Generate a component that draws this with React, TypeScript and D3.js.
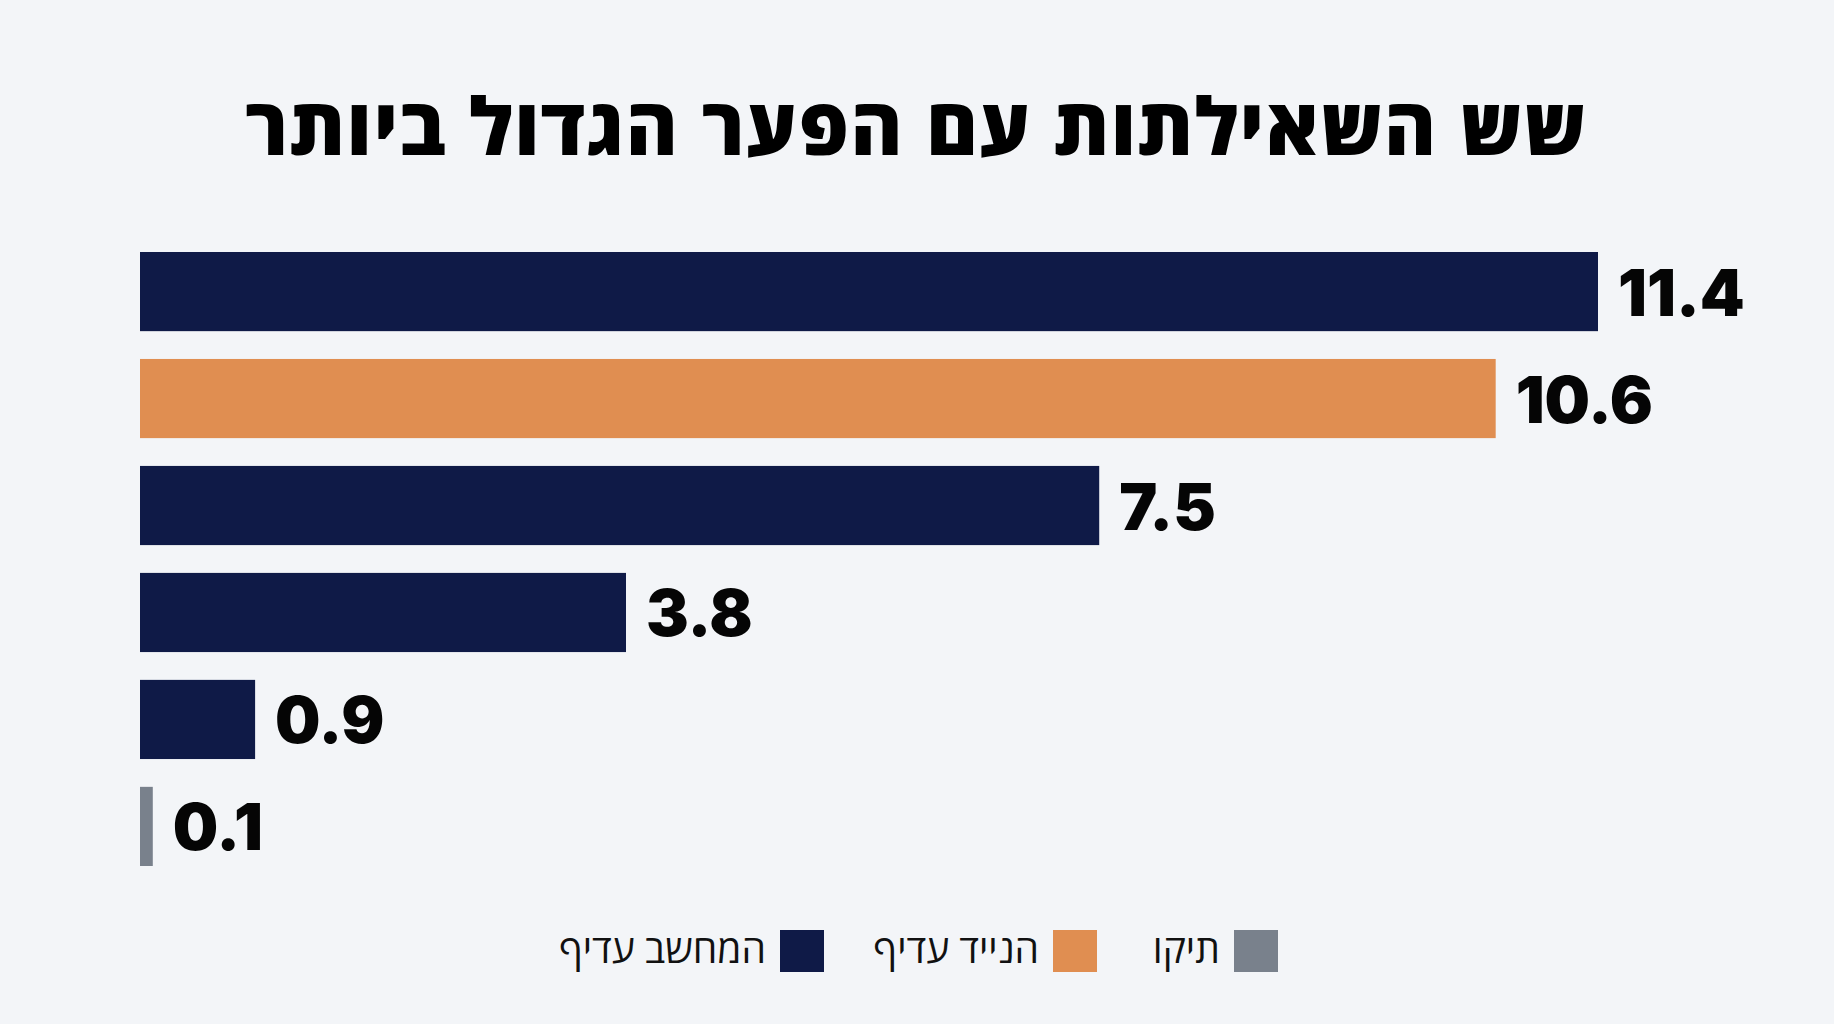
import React from "react";
import * as d3 from "d3";

const title = "שש השאילתות עם הפער הגדול ביותר";
const categories = ["q1", "q2", "q3", "q4", "q5", "q6"];
const values = [11.4, 10.6, 7.5, 3.8, 0.9, 0.1];
const valueLabels = ["11.4", "10.6", "7.5", "3.8", "0.9", "0.1"];
const winners = ["desktop", "mobile", "desktop", "desktop", "desktop", "tie"];
const legendKeys = ["tie", "mobile", "desktop"];
const legendLabels = ["תיקו", "הנייד עדיף", "המחשב עדיף"];
const colorKeys = ["desktop", "mobile", "tie"];
const colorValues = ["#0f1a47", "#e08e51", "#79818c"];

const W = 1834;
const H = 1024;

export default function App() {
  const x = d3.scaleLinear().domain([0, 11.4]).range([140, 1598]);
  const y = d3
    .scaleBand<string>()
    .domain(categories)
    .range([252, 866])
    .paddingInner(0.26)
    .paddingOuter(0);
  const color = d3.scaleOrdinal<string, string>().domain(colorKeys).range(colorValues);

  // legend, laid out right-to-left
  const legendX = [1234, 1053, 780];

  return (
    <svg
      width={W}
      height={H}
      viewBox={`0 0 ${W} ${H}`}
      style={{ position: "absolute", left: 0, top: 0, background: "#f3f5f8" }}
    >
      <rect x={0} y={0} width={W} height={H} fill="#f3f5f8" />
      <text
        x={916}
        y={155}
        textAnchor="middle"
        direction="rtl"
        fontFamily="'Open Sans', 'DejaVu Sans', sans-serif"
        fontWeight={800}
        fontSize={79}
        letterSpacing={1.5}
        fill="#000"
      >
        {title}
      </text>
      {values.map((v, i) => {
        const yy = y(categories[i]) as number;
        const bw = y.bandwidth();
        return (
          <g key={categories[i]}>
            <rect
              x={x(0)}
              y={yy}
              width={x(v) - x(0)}
              height={bw}
              fill={color(winners[i])}
            />
            <text
              x={x(v) + 20}
              y={yy + bw / 2 + 24}
              fontFamily="Inter, 'Open Sans', sans-serif"
              fontWeight={900}
              fontSize={64}
              fill="#050505"
            >
              {valueLabels[i]}
            </text>
          </g>
        );
      })}
      {legendKeys.map((k, i) => (
        <g key={k}>
          <rect x={legendX[i]} y={930} width={44} height={42} fill={color(k)} />
          <text
            x={legendX[i] - 14}
            y={963}
            textAnchor="start"
            direction="rtl"
            fontFamily="'Open Sans', 'DejaVu Sans', sans-serif"
            fontWeight={400}
            fontSize={39}
            fill="#111"
          >
            {legendLabels[i]}
          </text>
        </g>
      ))}
    </svg>
  );
}
